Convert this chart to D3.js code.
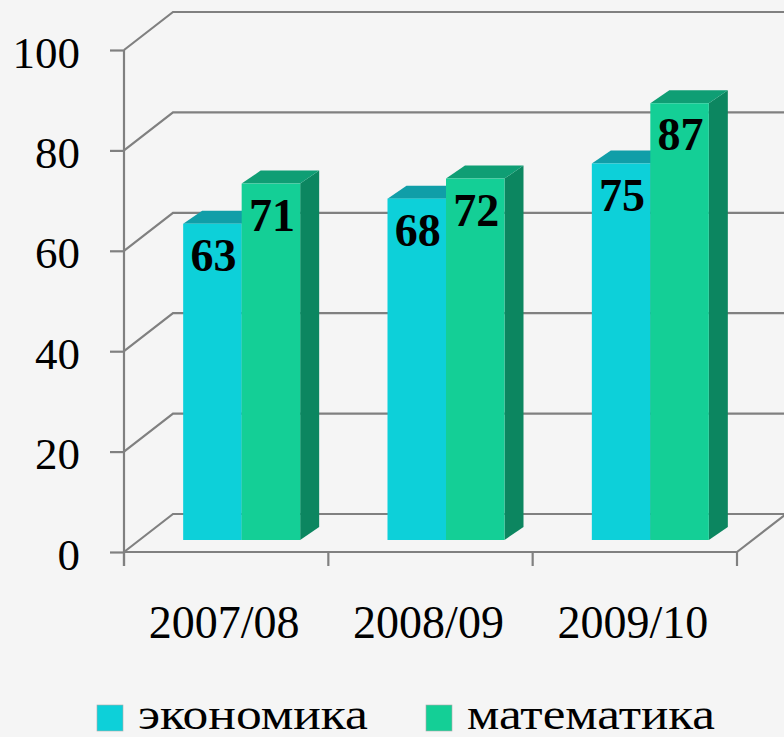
<!DOCTYPE html>
<html lang="ru">
<head>
<meta charset="utf-8">
<title>chart</title>
<script src="https://d3js.org/d3.v7.min.js"></script>
<style>
  body { margin: 0; background: #f5f5f5; }
  svg { display: block; }
</style>
</head>
<body>
<script>
// data
var categories = ["2007/08", "2008/09", "2009/10"];
var seriesNames = ["экономика", "математика"];
var economics = [63, 68, 75];
var mathematics = [71, 72, 87];
var yTicks = [0, 20, 40, 60, 80, 100];

var W = 784, H = 737;
var plotLeft = 124, plotRight = 737, plotTop = 50, floorY = 552;
var depth = { x: 49, y: -38 };      // wall depth
var barShift = { x: 15.5, y: -12 }; // where bars sit in depth
var barDepth = { x: 19, y: -13 };
var barW = 58.5;
var gridColor = "#808080";

var colors = [
  { front: "#0dd0d9", top: "#109ea8", side: "#0b8e96" },
  { front: "#14cf96", top: "#0f9e74", side: "#0c8660" }
];

var svg = d3.select("body").append("svg")
  .attr("width", W).attr("height", H);

svg.append("rect").attr("width", W).attr("height", H).attr("fill", "#f5f5f5");

var x = d3.scaleBand().domain(categories).range([plotLeft, plotRight]);
var y = d3.scaleLinear().domain([0, 100]).range([floorY, plotTop]);

// back wall gridlines + left wall diagonals
var grid = svg.append("g").attr("stroke", gridColor).attr("stroke-width", 2.2).attr("fill", "none");
yTicks.forEach(function (t) {
  var yy = y(t);
  grid.append("path")
    .attr("d", "M" + plotLeft + "," + yy + "L" + (plotLeft + depth.x) + "," + (yy + depth.y) + "L" + W + "," + (yy + depth.y));
});
// floor front edge, right diagonal
grid.append("path")
  .attr("d", "M" + plotLeft + "," + floorY + "L" + plotRight + "," + floorY + "L" + (plotRight + depth.x) + "," + (floorY + depth.y));
// category boundary ticks
[plotLeft].concat(categories.map(function (c) { return x(c) + x.bandwidth(); })).forEach(function (bx) {
  grid.append("line").attr("x1", bx).attr("x2", bx).attr("y1", floorY).attr("y2", floorY + 14);
});

// y axis
var yAxis = svg.append("g")
  .attr("transform", "translate(" + plotLeft + ",0)")
  .call(d3.axisLeft(y).tickValues(yTicks).tickSize(14).tickPadding(30).tickSizeOuter(0));
yAxis.select(".domain").attr("stroke", gridColor).attr("stroke-width", 2.2)
  .attr("d", "M0," + plotTop + "V" + (floorY + 14));
yAxis.selectAll(".tick line").attr("stroke", gridColor).attr("stroke-width", 2.2);
yAxis.selectAll(".tick text")
  .attr("font-family", "'Liberation Serif', 'Times New Roman', serif")
  .attr("font-size", "45px").attr("fill", "#000").attr("dy", "0.38em");

// x axis labels
var xAxis = svg.append("g")
  .attr("transform", "translate(0," + floorY + ")")
  .call(d3.axisBottom(x).tickSize(0).tickPadding(53));
xAxis.select(".domain").remove();
xAxis.selectAll(".tick text")
  .attr("font-family", "'Liberation Serif', 'Times New Roman', serif")
  .attr("font-size", "46px").attr("fill", "#000").attr("dx", "-2");

// bars
var bars = [];
categories.forEach(function (c, ci) {
  [economics[ci], mathematics[ci]].forEach(function (v, si) {
    bars.push({ cat: c, s: si, v: v });
  });
});

function barX(d) {
  return x(d.cat) + x.bandwidth() / 2 - barW + barShift.x + d.s * barW;
}
function barTop(d) { return y(d.v) + barShift.y; }
var barBottom = y(0) + barShift.y;

var bg = svg.append("g").selectAll("g").data(bars).enter().append("g");

bg.append("path") // side
  .attr("fill", function (d) { return colors[d.s].side; })
  .attr("d", function (d) {
    var x1 = barX(d) + barW, t = barTop(d);
    return "M" + x1 + "," + t + "L" + (x1 + barDepth.x) + "," + (t + barDepth.y) +
      "L" + (x1 + barDepth.x) + "," + (barBottom + barDepth.y) + "L" + x1 + "," + barBottom + "Z";
  });
bg.append("path") // top
  .attr("fill", function (d) { return colors[d.s].top; })
  .attr("d", function (d) {
    var x0 = barX(d), x1 = x0 + barW, t = barTop(d);
    return "M" + x0 + "," + t + "L" + (x0 + barDepth.x) + "," + (t + barDepth.y) +
      "L" + (x1 + barDepth.x) + "," + (t + barDepth.y) + "L" + x1 + "," + t + "Z";
  });
bg.append("rect") // front
  .attr("x", barX)
  .attr("y", barTop)
  .attr("width", barW)
  .attr("height", function (d) { return barBottom - barTop(d); })
  .attr("fill", function (d) { return colors[d.s].front; });

// value labels
svg.append("g").selectAll("text").data(bars).enter().append("text")
  .attr("x", function (d) { return barX(d) + barW / 2 + 1; })
  .attr("y", function (d) { return barTop(d) + 47; })
  .attr("text-anchor", "middle")
  .attr("font-family", "'Liberation Serif', 'Times New Roman', serif")
  .attr("font-weight", "bold")
  .attr("font-size", "46px")
  .attr("fill", "#000")
  .text(function (d) { return d.v; });

// legend
var legendX = [97, 426], legendTextW = [230, 248];
var lg = svg.append("g").selectAll("g").data(seriesNames).enter().append("g");
lg.append("rect")
  .attr("x", function (d, i) { return legendX[i]; })
  .attr("y", 705).attr("width", 26).attr("height", 26)
  .attr("fill", function (d, i) { return colors[i].front; })
  .attr("stroke", "#aaa").attr("stroke-width", 0.6);
lg.append("text")
  .attr("x", function (d, i) { return legendX[i] + 41; })
  .attr("y", 729)
  .attr("font-family", "'Liberation Serif', 'Times New Roman', serif")
  .attr("font-size", "44px")
  .attr("fill", "#000")
  .attr("textLength", function (d, i) { return legendTextW[i]; })
  .attr("lengthAdjust", "spacingAndGlyphs")
  .text(function (d) { return d; });
</script>
</body>
</html>
